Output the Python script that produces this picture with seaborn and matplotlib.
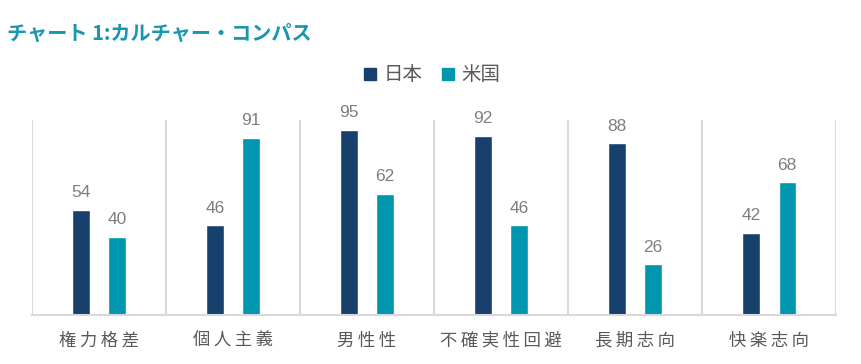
import numpy as np
import pandas as pd
import seaborn as sns
import matplotlib.pyplot as plt
from matplotlib.lines import Line2D

categories = ["権力格差", "個人主義", "男性性", "不確実性回避", "長期志向", "快楽志向"]
japan = [54, 46, 95, 92, 88, 42]
usa = [40, 91, 62, 46, 26, 68]
countries = ["日本", "米国"]
colors = ["#17406D", "#0096AF"]

df = pd.DataFrame({
    "category": categories * 2,
    "country": [countries[0]] * len(categories) + [countries[1]] * len(categories),
    "score": japan + usa,
})

sns.set_style("white")
plt.rcParams['font.family'] = ['Noto Sans CJK JP', 'DejaVu Sans']

fig = plt.figure(figsize=(8.62, 3.64), dpi=100)
ax = fig.add_axes([0.037, 0.1346, 0.933, 0.5357])
sns.barplot(data=df, x="category", y="score", hue="country", palette=colors,
            width=0.54, gap=0.52, saturation=1, errorbar=None, legend=False, ax=ax)

for cont in ax.containers:
    ax.bar_label(cont, padding=7, fontsize=12.5, color="#7F7F7F", family="Liberation Sans")

ax.set_ylim(0, 100)
ax.set_xlim(-0.5, len(categories) - 0.5)
ax.set_yticks([])
ax.set_xlabel("")
ax.set_ylabel("")
ax.set_xticks(range(len(categories)))
ax.set_xticklabels(["\u2009".join(c) for c in categories], fontsize=12.5, color="#595959")
ax.tick_params(axis="x", length=0, pad=12)
ax.set_xticks(np.arange(-0.5, len(categories)), minor=True)
ax.tick_params(axis="x", which="minor", length=0)
ax.grid(False)
ax.grid(True, which="minor", axis="x", color="#D9D9D9", linewidth=1.5)
for s in ["left", "right", "top"]:
    ax.spines[s].set_visible(False)
ax.spines["bottom"].set_color("#D9D9D9")
ax.spines["bottom"].set_linewidth(1.5)

handles = [Line2D([], [], marker="s", linestyle="", markersize=8, color=c) for c in colors]
fig.legend(handles, countries, loc="center", bbox_to_anchor=(0.5, 1 - 75 / 364), ncol=2,
           frameon=False, fontsize=14, labelcolor="#595959", handletextpad=0.3,
           columnspacing=0.9, handlelength=0.8)

fig.text(0.008, 1 - 33 / 364, "チャート 1:カルチャー・コンパス", va="center", ha="left",
         fontsize=14.5, fontweight="bold", color="#1A96B0")

fig.savefig("out.png", dpi=100)
